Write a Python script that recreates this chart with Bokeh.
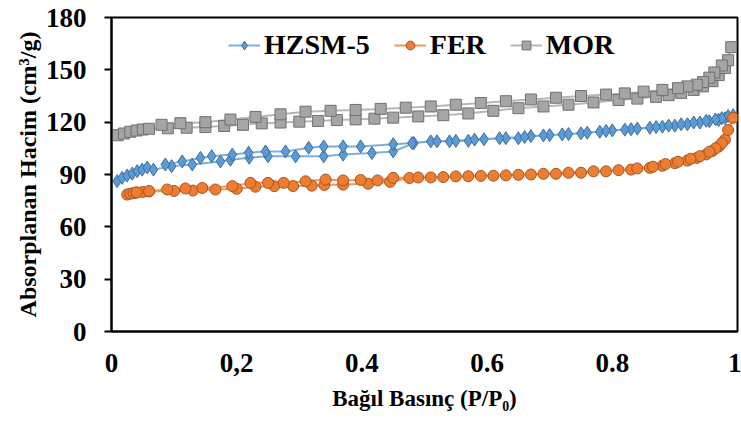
from bokeh.plotting import figure
from bokeh.models import FixedTicker, Legend, LegendItem
from bokeh.embed import file_html
from bokeh.resources import INLINE

# ---- data ----
hz_ads_x = [0.009, 0.017, 0.025, 0.033, 0.041, 0.049, 0.057, 0.067, 0.096, 0.129, 0.174, 0.19, 0.22, 0.25,
            0.294, 0.339, 0.37, 0.416, 0.45, 0.483, 0.51, 0.54, 0.57, 0.595, 0.63, 0.65, 0.67, 0.70, 0.72,
            0.75, 0.78, 0.80, 0.83, 0.86, 0.88, 0.90, 0.92, 0.94, 0.955, 0.97, 0.98, 0.993]
hz_ads_y = [86.2, 88.1, 89.4, 90.5, 91.9, 92.8, 94.0, 92.8, 94.8, 95.7, 97.5, 98.5, 99.6, 100.5,
            100.4, 100.4, 101.4, 102.3, 103.2, 108.0, 109.0, 109.0, 109.3, 110.2, 110.8, 110.8, 112.0, 112.6, 113.0,
            113.6, 114.5, 115.3, 116.0, 116.8, 117.4, 118.0, 118.8, 119.8, 120.5, 121.3, 122.2, 124.0]
hz_des_x = [0.985, 0.975, 0.965, 0.95, 0.93, 0.91, 0.89, 0.87, 0.84, 0.82, 0.79, 0.76, 0.73, 0.69, 0.66,
            0.62, 0.58, 0.55, 0.52, 0.48, 0.45, 0.398, 0.37, 0.339, 0.315, 0.278, 0.246, 0.219, 0.193,
            0.16, 0.142, 0.113, 0.086]
hz_des_y = [123.5, 122.3, 121.6, 120.8, 119.8, 118.8, 118.0, 117.2, 116.3, 115.7, 115.0, 114.0, 113.2, 112.4, 111.5,
            110.8, 110.0, 109.3, 109.0, 108.0, 107.4, 106.1, 106.1, 106.1, 105.3, 103.2, 103.2, 102.5, 101.4,
            100.5, 99.5, 97.5, 95.7]

fer_ads_x = [0.025, 0.03, 0.035, 0.04, 0.05, 0.06, 0.10, 0.13, 0.166, 0.20, 0.23, 0.26, 0.29, 0.32, 0.34,
             0.37, 0.41, 0.445, 0.476, 0.51, 0.55, 0.59, 0.63, 0.67, 0.71, 0.75, 0.79, 0.83, 0.86, 0.88,
             0.90, 0.92, 0.935, 0.95, 0.96, 0.97, 0.98, 0.993]
fer_ads_y = [78.5, 79.0, 79.3, 79.6, 80.0, 80.3, 80.6, 80.8, 81.4, 81.8, 83.0, 83.3, 83.4, 83.6, 84.0,
             84.2, 84.7, 85.8, 88.0, 88.3, 88.9, 89.2, 89.5, 90.0, 90.4, 91.0, 91.8, 92.8, 93.8, 95.0,
             96.5, 98.0, 99.5, 101.5, 103.5, 106.0, 110.0, 122.5]
fer_des_x = [0.985, 0.975, 0.965, 0.955, 0.94, 0.925, 0.905, 0.885, 0.865, 0.84, 0.81, 0.77, 0.73, 0.69,
             0.65, 0.61, 0.57, 0.53, 0.49, 0.45, 0.425, 0.398, 0.37, 0.342, 0.31, 0.275, 0.25, 0.222,
             0.193, 0.145, 0.118, 0.089, 0.06, 0.04]
fer_des_y = [115.5, 108.0, 105.0, 103.0, 100.5, 99.0, 97.3, 96.0, 94.5, 93.5, 92.5, 91.8, 91.0, 90.4,
             89.8, 89.3, 89.0, 88.5, 88.3, 88.1, 86.6, 86.9, 86.6, 87.1, 86.1, 85.2, 85.2, 85.2,
             83.3, 82.3, 82.0, 81.4, 80.5, 79.8]

mor_ads_x = [0.01, 0.02, 0.03, 0.04, 0.05, 0.06, 0.09, 0.12, 0.15, 0.18, 0.21, 0.24, 0.27, 0.30, 0.33,
             0.36, 0.39, 0.42, 0.45, 0.49, 0.53, 0.57, 0.61, 0.65, 0.69, 0.73, 0.77, 0.81, 0.84, 0.87,
             0.89, 0.91, 0.93, 0.945, 0.96, 0.97, 0.98, 0.99]
mor_ads_y = [112.5, 113.5, 114.5, 115.2, 115.8, 116.2, 116.5, 116.8, 117.2, 117.8, 118.5, 119.3, 119.8, 120.3, 120.7,
             121.2, 121.6, 122.0, 122.6, 123.3, 124.0, 125.0, 126.5, 128.0, 129.0, 130.0, 131.3, 132.7, 133.5, 134.5,
             135.5, 136.8, 138.5, 140.5, 143.5, 147.0, 151.0, 163.0]
mor_des_x = [0.985, 0.975, 0.963, 0.955, 0.945, 0.935, 0.92, 0.905, 0.88, 0.85, 0.82, 0.79, 0.75, 0.71,
             0.67, 0.63, 0.59, 0.55, 0.51, 0.47, 0.43, 0.39, 0.35, 0.31, 0.27, 0.23, 0.19, 0.15, 0.11, 0.08]
mor_des_y = [155.5, 152.5, 148.5, 145.5, 143.0, 141.5, 140.5, 139.5, 138.5, 137.5, 136.5, 135.8, 135.0, 134.0,
             133.0, 132.0, 131.0, 130.0, 129.0, 128.3, 127.6, 127.0, 126.5, 126.0, 124.5, 123.0, 121.5, 120.0, 119.4, 118.5]

series_names = ["HZSM-5", "FER", "MOR"]
x_ticks = [0, 0.2, 0.4, 0.6, 0.8, 1]
x_tick_labels = ["0", "0,2", "0.4", "0.6", "0.8", "1"]
y_ticks = [0, 30, 60, 90, 120, 150, 180]

FONT = "Liberation Serif"

p = figure(width=741, height=413, x_range=(0, 1), y_range=(0, 180),
           output_backend="svg", toolbar_location=None,
           min_border_left=111, min_border_right=4, min_border_top=17, min_border_bottom=80)
p.grid.visible = False
p.outline_line_color = "black"
p.outline_line_width = 2
p.background_fill_color = "white"
p.border_fill_color = "white"

# axes
p.xaxis.ticker = FixedTicker(ticks=x_ticks)
p.xaxis.major_label_overrides = {t: l for t, l in zip(x_ticks, x_tick_labels)}
p.yaxis.ticker = FixedTicker(ticks=y_ticks)
for ax in (p.xaxis, p.yaxis):
    ax.axis_line_color = "black"
    ax.axis_line_width = 2
    ax.major_label_text_font = FONT
    ax.major_label_text_font_style = "bold"
    ax.major_label_text_font_size = "27px"
    ax.major_label_text_color = "black"
    ax.minor_tick_line_color = None
    ax.axis_label_text_font = FONT
    ax.axis_label_text_font_style = "bold"
    ax.axis_label_text_color = "black"
p.xaxis.major_tick_line_color = None
p.xaxis.major_label_standoff = 16
p.xaxis.axis_label = "Bağıl Basınç (P/P₀)"
p.xaxis.axis_label_text_font_size = "23px"
p.xaxis.axis_label_standoff = 11
p.yaxis.major_tick_line_color = "black"
p.yaxis.major_tick_line_width = 2
p.yaxis.major_tick_in = 0
p.yaxis.major_tick_out = 7
p.yaxis.major_label_standoff = 18
p.yaxis.axis_label = "Absorplanan Hacim (cm³/g)"
p.yaxis.axis_label_text_font_size = "24px"
p.yaxis.axis_label_standoff = 2

styles = [
    ("#5B9BD5", "#3F6E9E", "diamond", 13),
    ("#ED7D31", "#A85520", "circle", 11),
    ("#A5A5A5", "#707070", "square", 11),
]
data = [
    (hz_ads_x, hz_ads_y, hz_des_x, hz_des_y),
    (fer_ads_x, fer_ads_y, fer_des_x, fer_des_y),
    (mor_ads_x, mor_ads_y, mor_des_x, mor_des_y),
]

items = []
for name, (ax_, ay_, dx_, dy_), (fc, lc, mk, sz) in zip(series_names, data, styles):
    xs = ax_ + dx_
    ys = ay_ + dy_
    r1 = p.line(xs, ys, line_color=fc, line_width=2, line_alpha=0.8)
    r2 = p.scatter(xs, ys, marker=mk, size=sz, fill_color=fc, line_color=lc, line_width=1)
    items.append(LegendItem(label=name, renderers=[r1, r2]))

legend = Legend(items=items, orientation="horizontal", location=(117, 270),
                label_text_font=FONT, label_text_font_style="bold", label_text_font_size="28px",
                label_text_color="black", glyph_width=32, glyph_height=22, label_standoff=4,
                spacing=24, border_line_color=None, background_fill_alpha=0, padding=4, margin=0)
p.add_layout(legend)

open("out.html", "w").write(file_html(p, INLINE))
